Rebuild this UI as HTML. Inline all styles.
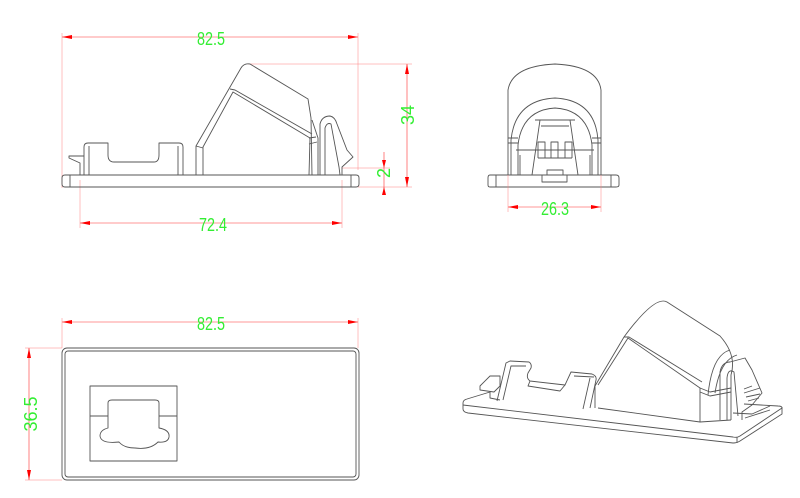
<!DOCTYPE html>
<html><head><meta charset="utf-8"><style>
html,body{margin:0;padding:0;background:#fff;}
svg{display:block;}
.d{stroke:#ff3030;stroke-width:0.6;fill:none;}
.e{stroke:#ff8080;stroke-width:0.5;fill:none;}
.l{stroke:#555;stroke-width:0.9;fill:none;stroke-linejoin:round;}
.t{fill:#33ee33;font-family:"Liberation Sans Narrow","Liberation Sans",sans-serif;font-size:18px;}
.a{fill:#ff0000;}
</style></head><body>
<svg width="800" height="498" viewBox="0 0 800 498" xmlns="http://www.w3.org/2000/svg">
<!-- SIDE VIEW -->
<g>
 <line class="e" x1="62" y1="33" x2="62" y2="188"/>
 <line class="e" x1="358" y1="33" x2="358" y2="170"/>
 <line class="d" x1="62" y1="37" x2="358" y2="37"/>
 <polygon class="a" points="62,37 72,35 72,39"/><polygon class="a" points="358,37 348,35 348,39"/>
 <text class="t" x="197" y="45" textLength="28" lengthAdjust="spacingAndGlyphs">82.5</text>
 <line class="e" x1="80" y1="180" x2="80" y2="228"/>
 <line class="e" x1="342" y1="180" x2="342" y2="228"/>
 <line class="d" x1="80" y1="223" x2="342" y2="223"/>
 <polygon class="a" points="80,223 90,221 90,225"/><polygon class="a" points="342,223 332,221 332,225"/>
 <text class="t" x="199" y="231" textLength="28" lengthAdjust="spacingAndGlyphs">72.4</text>
 <line class="e" x1="248" y1="64" x2="412" y2="64"/>
 <line class="e" x1="358" y1="187" x2="412" y2="187"/>
 <line class="e" x1="342" y1="168" x2="390" y2="168"/>
 <line class="d" x1="407" y1="64" x2="407" y2="187"/>
 <polygon class="a" points="407,64 405,74 409,74"/><polygon class="a" points="407,187 405,177 409,177"/>
 <text class="t" x="0" y="0" text-anchor="middle" transform="translate(414,115) rotate(-90)">34</text>
 <line class="d" x1="384" y1="152" x2="384" y2="192"/>
 <polygon class="a" points="384,168 382,160 386,160"/><polygon class="a" points="384,187 382,195 386,195"/>
 <text class="t" x="0" y="0" text-anchor="middle" transform="translate(390,173) rotate(-90)">2</text>
 <!-- base -->
 <path class="l" d="M65,175 H356 Q359,175 359,178 V184 Q359,187 356,187 H65 Q62,187 62,184 V178 Q62,175 65,175 Z"/>
 <line class="l" x1="70" y1="175" x2="70" y2="187"/><line class="l" x1="351" y1="175" x2="351" y2="187"/>
 <path class="l" d="M80,175 V163 L69,158 V156 H84"/>
 <path class="l" d="M84,175 V147 Q84,143 88,143 H108 V155 Q108,162 114,162 H154 Q159,162 159,155 V143 H179 Q183,143 183,147 V175"/>
 <line class="l" x1="89" y1="146" x2="89" y2="175"/><line class="l" x1="178" y1="146" x2="178" y2="175"/>
 <path class="l" d="M196,175 V146 L241,68 Q244,63 250,64 L308,99 L311,118 L312,175"/>
 <path class="l" d="M203,175 V147 L233,92 L310,138 L309,175"/>
 <path class="l" d="M196,146 L203,148"/>
 <path class="l" d="M230,89 L235,90 L312,134"/>
 <path class="l" d="M309,138 L316,137 M309,144 L317,142"/>
 <path class="l" d="M318,175 V138 L312,120"/>
 <path class="l" d="M320,175 V124 Q322,116 330,116 Q335,117 337,124 L347,150 L353,157 L342,167 L342,175"/>
 <path class="l" d="M325,175 V128 Q327,122 331,124 L339,167 L340,175"/>
</g>
<!-- FRONT VIEW -->
<g>
 <path class="l" d="M490,175 H616 Q619,175 619,178 V185 Q619,187 616,187 H490 Q488,187 488,185 V178 Q488,175 490,175 Z"/>
 <line class="l" x1="496" y1="175" x2="496" y2="187"/><line class="l" x1="611" y1="175" x2="611" y2="187"/>
 <path class="l" d="M508,175 V90 Q512,66 555,64 Q598,66 601,90 V175"/>
 <path class="l" d="M511,175 V140 Q515,100 555,98 Q595,100 598,140 V175"/>
 <path class="l" d="M518,175 V145 Q522,110 555,108 Q588,110 592,145 V175"/>
 <path class="l" d="M508,138 H518 M508,143 H518 M592,138 H601 M592,143 H601"/>
 <path class="l" d="M520,175 V155 M590,175 V155 M516,150 H594"/>
 <path class="l" d="M532,175 L540,120 H570 L578,175"/>
 <path class="l" d="M535,120 H575 M541,126 H569"/>
 <path class="l" d="M538,158 V142 H545 V158 M551,158 V142 H558 V158 M565,158 V142 H572 V158 M538,158 H572"/>
 <path class="l" d="M542,175 V182 H567 V175 M547,175 V170 H563 V175"/>
 <line class="e" x1="508" y1="175" x2="508" y2="212"/><line class="e" x1="601" y1="175" x2="601" y2="212"/>
 <line class="d" x1="508" y1="207" x2="601" y2="207"/>
 <polygon class="a" points="508,207 518,205 518,209"/><polygon class="a" points="601,207 591,205 591,209"/>
 <text class="t" x="541" y="215" textLength="28" lengthAdjust="spacingAndGlyphs">26.3</text>
</g>
<!-- TOP VIEW -->
<g>
 <line class="e" x1="62" y1="318" x2="62" y2="348"/><line class="e" x1="358" y1="318" x2="358" y2="348"/>
 <line class="d" x1="62" y1="322" x2="358" y2="322"/>
 <polygon class="a" points="62,322 72,320 72,324"/><polygon class="a" points="358,322 348,320 348,324"/>
 <text class="t" x="197" y="330" textLength="28" lengthAdjust="spacingAndGlyphs">82.5</text>
 <line class="e" x1="25" y1="348" x2="62" y2="348"/><line class="e" x1="25" y1="480" x2="62" y2="480"/>
 <line class="d" x1="29" y1="348" x2="29" y2="480"/>
 <polygon class="a" points="29,348 27,358 31,358"/><polygon class="a" points="29,480 27,470 31,470"/>
 <text class="t" x="0" y="0" text-anchor="middle" transform="translate(37,414) rotate(-90)">36.5</text>
 <rect class="l" x="62" y="348" width="297" height="132" rx="5"/>
 <rect class="l" x="65" y="351" width="291" height="126" rx="3"/>
 <rect class="l" x="90" y="386" width="87" height="75"/>
 <path class="l" d="M90,416 H108 M159,416 H177"/>
 <path class="l" d="M108,428 V403 Q108,400 112,400 H155 Q159,400 159,403 V428 Q170,430 169,437 Q168,443 158,442 Q150,450 135,448 Q124,448 119,442 Q101,444 100,436 Q100,430 108,428 Z"/>
</g>
<!-- ISO VIEW -->
<g>
 <path class="l" d="M463,403 L463,409 Q463,412 468,413 L733,443 Q737,443 740,441 L782,414 V407"/>
 <path class="l" d="M463,403 Q463,400 467,399 L490,392 M733,437 L463,405 M733,437 Q737,438 740,436 L782,408 Q782,406 778,406 L744,404"/>
 <path class="l" d="M737,437 V443"/>
 <path class="l" d="M480,386 L490,376 H500 V386 L494,392 L480,390 Z M490,392 V398 L500,400"/>
 <path class="l" d="M497,401 L506,363 L510,361 L529,362 Q532,364 531,368 L528,373 Q526,378 530,381 L565,385 L571,372 L592,374 Q597,376 596,380 L590,408"/>
 <path class="l" d="M503,400 L511,366 L526,366 M574,376 L594,377 M530,381 L528,386 L560,391 L565,385"/>
 <path class="l" d="M583,409 L590,378"/>
 <path class="l" d="M595,408 V386 L624,337 Q655,295 667,302 L720,336 Q737,355 731,375 V420"/>
 <path class="l" d="M598,385 L628,338 L700,388 V422"/>
 <path class="l" d="M624,337 L629,337 L702,382"/>
 <path class="l" d="M700,388 L710,392 L731,388 M700,392 L710,396 L731,392"/>
 <path class="l" d="M708,395 Q712,355 730,350 M715,393 Q720,360 737,355"/>
 <path class="l" d="M598,408 L700,422 L731,420"/>
 <path class="l" d="M720,420 V372 Q722,362 730,362 L745,358 L752,370 L762,393 L752,405 L742,412 V420"/>
 <path class="l" d="M727,420 V378 Q728,368 734,372 L738,416"/>
 <path class="l" d="M744,393 L760,388 M746,397 L760,394 M748,401 L759,398 M744,389 L752,386"/>
 <path class="l" d="M733,413 L752,414 L770,406 M745,418 L770,410"/>
</g>
</svg>
</body></html>
